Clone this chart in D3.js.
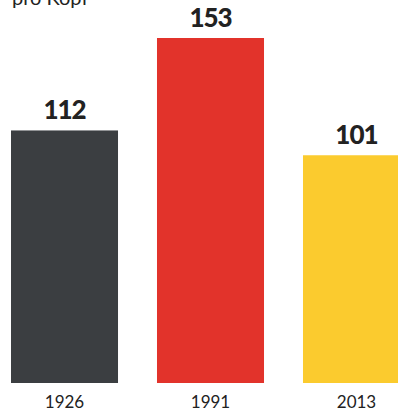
<!DOCTYPE html>
<html>
<head>
<meta charset="utf-8">
<script src="https://cdn.jsdelivr.net/npm/d3@7"></script>
<style>
  body { margin: 0; background: #fff; }
  svg { display: block; }
</style>
</head>
<body>
<svg></svg>
<script>
let width = 398, height = 412

let years = ["1926", "1991", "2013"]
let values = [112, 153, 101]
let colors = ["#3b3e41", "#e2332b", "#fbcb2e"]

let svg = d3.select("svg").attr("width", width).attr("height", height)

let x = d3.scaleBand()
    .domain(years)
    .range([11, 410])
    .paddingInner(0.267)
    .paddingOuter(0)

let y = d3.scaleLinear()
    .domain([0, 153])
    .range([383, 38])

// headline, cut off at the top edge as in the scan
svg.append("text")
    .attr("x", 12)
    .attr("y", 5)
    .style("font-family", "Lato, 'Open Sans', sans-serif")
    .style("font-size", "20px")
    .style("fill", "#222")
    .text("pro Kopf")

svg.selectAll("rect.bar")
    .data(years)
    .enter()
    .append("rect")
    .attr("class", "bar")
    .attr("x", d => x(d))
    .attr("width", x.bandwidth())
    .attr("y", (d, i) => y(values[i]))
    .attr("height", (d, i) => y(0) - y(values[i]))
    .attr("fill", (d, i) => colors[i])

svg.selectAll("text.val")
    .data(years)
    .enter()
    .append("text")
    .attr("class", "val")
    .attr("x", d => x(d) + x.bandwidth() / 2)
    .attr("y", (d, i) => y(values[i]) - 11)
    .attr("text-anchor", "middle")
    .style("font-family", "Lato, 'Open Sans', sans-serif")
    .style("font-weight", "900")
    .style("font-size", "26px")
    .style("letter-spacing", "-1px")
    .style("fill", "#222")
    .text((d, i) => values[i])

svg.selectAll("text.year")
    .data(years)
    .enter()
    .append("text")
    .attr("class", "year")
    .attr("x", d => x(d) + x.bandwidth() / 2)
    .attr("y", 408)
    .attr("text-anchor", "middle")
    .style("font-family", "Lato, 'Open Sans', sans-serif")
    .style("font-size", "17px")
    .style("fill", "#222")
    .text(d => d)
</script>
</body>
</html>
